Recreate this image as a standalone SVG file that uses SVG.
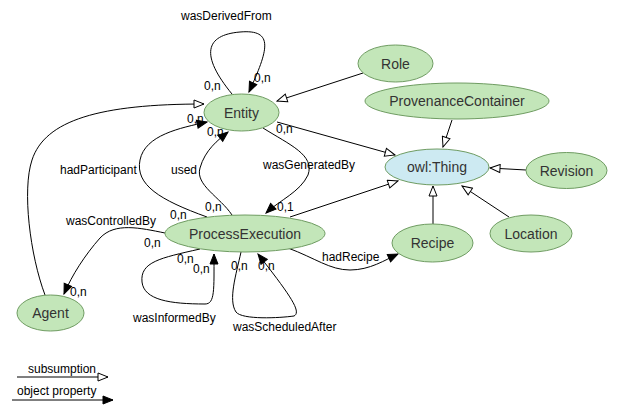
<svg xmlns="http://www.w3.org/2000/svg" width="618" height="413" viewBox="0 0 618 413">
<style>
.node ellipse{fill:#c3e6b9;stroke:#6f9c62;stroke-width:1}
.node.thing ellipse{fill:#cdeaf2;stroke:#6f9c62}
.node text{font-family:"Liberation Sans",Arial,sans-serif;font-size:14px;fill:#333;text-anchor:middle}
.edges path,.edges line{fill:none;stroke:#000;stroke-width:1}
.sub{marker-end:url(#open)}
.obj{marker-end:url(#filled)}
.lbl{font-family:"Liberation Sans",Arial,sans-serif;font-size:12px;fill:#000}
</style>
<defs>
<marker id="open" viewBox="0 0 12 10" markerWidth="12" markerHeight="10" refX="11" refY="5" orient="auto" markerUnits="userSpaceOnUse">
<path d="M1,1 L11,5 L1,9 z" fill="#fff" stroke="#000" stroke-width="1"/>
</marker>
<marker id="filled" viewBox="0 0 12 10" markerWidth="12" markerHeight="10" refX="11" refY="5" orient="auto" markerUnits="userSpaceOnUse">
<path d="M1,1 L11,5 L1,9 z" fill="#000" stroke="#000" stroke-width="1"/>
</marker>
</defs>
<rect width="618" height="413" fill="#fff"/>
<g id="connectors" class="edges">
<path class="obj" d="M232,94 C200,55 205,35 240,32 C275,29 268,50 249,92"/>
<path class="sub" d="M363,73 L277,101"/>
<path class="sub" d="M452,120 L443,147"/>
<path class="sub" d="M526,170 L490,168"/>
<path class="sub" d="M509,217 L462,186"/>
<path class="sub" d="M433,224 L433,186"/>
<path class="sub" d="M277,122 L395,155"/>
<path class="sub" d="M290,217 L398,181"/>
<path class="sub" d="M45,295 C30,255 22,190 32,160 C45,120 100,104 204,104"/>
<path class="obj" d="M207,217 C160,200 135,185 140,160 C145,135 180,128 207,122"/>
<path class="obj" d="M232,215 C220,197 195,185 200,168 C205,150 218,140 228,132"/>
<path class="obj" d="M263,128 C290,145 315,155 308,175 C300,192 280,200 266,213"/>
<path class="obj" d="M165,233 C140,228 115,222 100,238 C85,255 72,275 64,294"/>
<path class="obj" d="M200,249 C160,258 140,262 142,282 C144,300 170,304 205,304 C215,304 214,290 214,254"/>
<path class="obj" d="M241,252 C236,275 228,300 236,312 C242,320 280,318 294,316 C302,312 290,295 258,254"/>
<path class="obj" d="M288,248 C315,258 330,270 350,270 C370,270 385,260 398,254"/>
<line class="sub" x1="17" y1="377" x2="108" y2="377"/>
<line class="obj" x1="12" y1="400" x2="113" y2="400"/>
</g>
<g id="edge-labels">
<text class="lbl" x="181" y="20">wasDerivedFrom</text>
<text class="lbl" x="204" y="90">0,n</text>
<text class="lbl" x="254" y="82">0,n</text>
<text class="lbl" x="60" y="174">hadParticipant</text>
<text class="lbl" x="171" y="174">used</text>
<text class="lbl" x="187" y="123">0,n</text>
<text class="lbl" x="207" y="136">0,n</text>
<text class="lbl" x="276" y="133">0,n</text>
<text class="lbl" x="263" y="169">wasGeneratedBy</text>
<text class="lbl" x="277" y="211">0,1</text>
<text class="lbl" x="205" y="211">0,n</text>
<text class="lbl" x="170" y="219">0,n</text>
<text class="lbl" x="66" y="225">wasControlledBy</text>
<text class="lbl" x="144" y="247">0,n</text>
<text class="lbl" x="70" y="296">0,n</text>
<text class="lbl" x="177" y="263">0,n</text>
<text class="lbl" x="193" y="273">0,n</text>
<text class="lbl" x="133" y="322">wasInformedBy</text>
<text class="lbl" x="231" y="270">0,n</text>
<text class="lbl" x="258" y="270">0,n</text>
<text class="lbl" x="233" y="331">wasScheduledAfter</text>
<text class="lbl" x="322" y="261">hadRecipe</text>
<text class="lbl" x="28" y="373">subsumption</text>
<text class="lbl" x="17" y="395">object property</text>
</g>
<g id="Entity" class="node"><ellipse cx="241.5" cy="112.5" rx="37.5" ry="18.5"/><text x="241.5" y="117.5">Entity</text></g>
<g id="Role" class="node"><ellipse cx="395.5" cy="63.5" rx="37.5" ry="18.5"/><text x="395.5" y="68.5">Role</text></g>
<g id="ProvenanceContainer" class="node"><ellipse cx="457" cy="101" rx="92" ry="18"/><text x="457" y="106">ProvenanceContainer</text></g>
<g id="owlThing" class="node thing"><ellipse cx="437" cy="167" rx="52" ry="18"/><text x="437" y="172">owl:Thing</text></g>
<g id="Revision" class="node"><ellipse cx="566.5" cy="170.5" rx="40.5" ry="18"/><text x="566.5" y="175.5">Revision</text></g>
<g id="Location" class="node"><ellipse cx="531" cy="233.5" rx="41" ry="18.5"/><text x="531" y="238.5">Location</text></g>
<g id="Recipe" class="node"><ellipse cx="432.5" cy="243" rx="40.5" ry="19"/><text x="432.5" y="248">Recipe</text></g>
<g id="ProcessExecution" class="node"><ellipse cx="245" cy="233.5" rx="80" ry="18.5"/><text x="245" y="238.5">ProcessExecution</text></g>
<g id="Agent" class="node"><ellipse cx="50.5" cy="313" rx="33.5" ry="18"/><text x="50.5" y="318">Agent</text></g>
</svg>
